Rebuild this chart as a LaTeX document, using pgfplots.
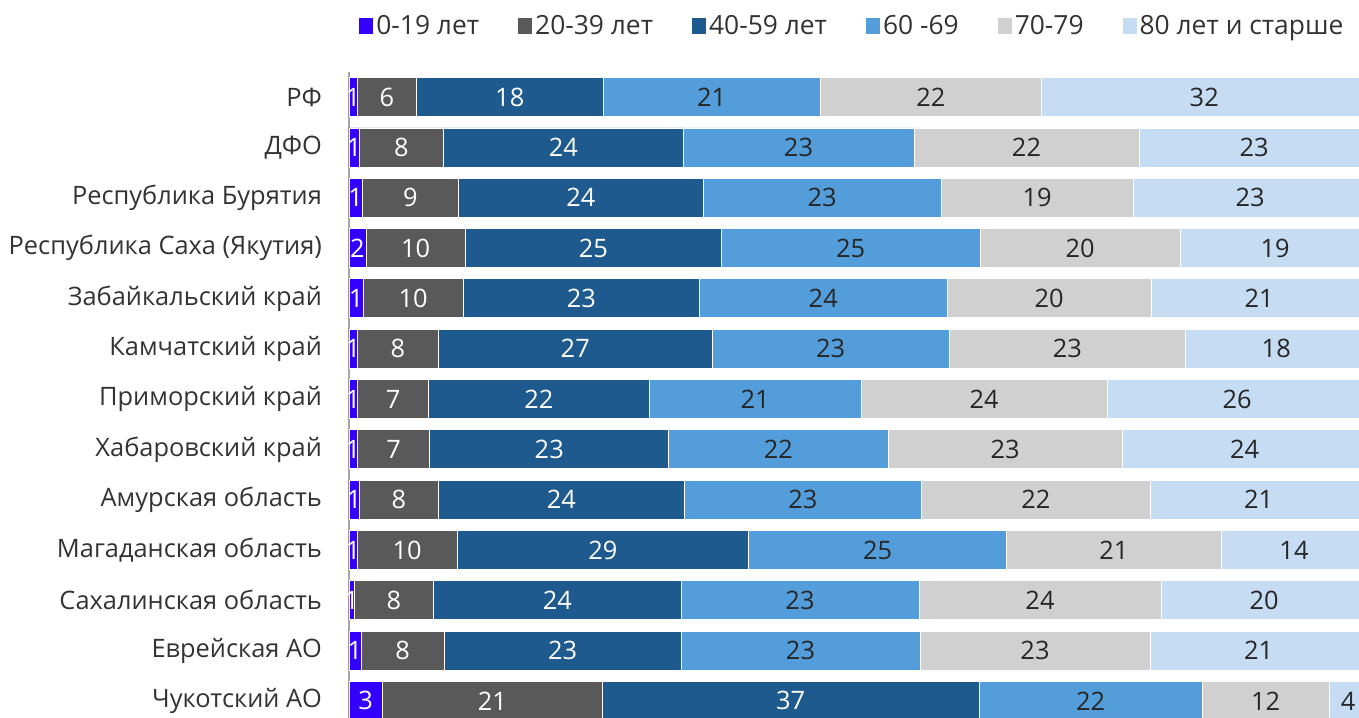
\documentclass[border=0pt]{standalone}
\usepackage{pgfplots}
\pgfplotsset{compat=1.18}
\usepackage{pgfplotstable}
\usepackage{fontspec}
\setmainfont{Open Sans}
\definecolor{cA}{HTML}{3300FF}
\definecolor{cB}{HTML}{595959}
\definecolor{cC}{HTML}{1E5A8E}
\definecolor{cD}{HTML}{539DDB}
\definecolor{cE}{HTML}{D0D0D0}
\definecolor{cF}{HTML}{C5DCF2}
\definecolor{axisgrey}{HTML}{A6A6A6}
\definecolor{labelc}{HTML}{333333}
\pgfplotstableread{
y  a    la b     lb c     lc d     ld e     le f     lf
12 0.82 1  5.80  6  18.34 18 21.32 21 21.74 22 31.98 32
11 1.01 1  8.29  8  23.51 24 22.69 23 22.10 22 22.60 23
10 1.31 1  9.43  9  24.07 24 23.35 23 18.86 19 22.98 23
9  1.67 2  9.75  10 25.15 25 25.41 25 19.68 20 18.60 19
8  1.40 1  9.82  10 23.22 23 24.29 24 20.07 20 21.20 21
7  0.82 1  7.96  8  26.89 27 23.28 23 23.21 23 17.84 18
6  0.82 1  7.01  7  21.64 22 20.83 21 24.19 24 25.51 26
5  0.82 1  7.11  7  23.48 23 21.54 22 23.02 23 24.03 24
4  1.01 1  7.76  8  24.17 24 23.28 23 22.50 22 21.28 21
3  0.82 1  9.79  10 28.65 29 25.34 25 21.05 21 14.35 14
2  0.52 1  7.80  8  24.29 24 23.38 23 23.77 24 20.24 20
1  1.18 1  8.18  8  23.25 23 23.48 23 22.59 23 21.32 21
0  3.27 3  21.61 21 37.00 37 21.94 22 12.45 12 3.73  4
}\data
\pgfplotsset{
  sq/.style={legend image code/.code={\fill[##1,draw=none] (0bp,-3.8bp) rectangle (7bp,3.8bp);}},
}
\begin{document}
\begin{tikzpicture}[font=\fontsize{12.7bp}{15bp}\selectfont]
\begin{axis}[
  scale only axis, width=513.1bp, height=323bp,
  xbar stacked, bar width=19.5bp,
  xmin=0, xmax=100.8, ymin=-0.34, ymax=12.5,
  axis x line=none, axis y line=left,
  y axis line style={-, draw=axisgrey, line width=0.8bp},
  ytick={0,...,12},
  yticklabels={Чукотский АО, Еврейская АО, Сахалинская область, Магаданская область, Амурская область, Хабаровский край, Приморский край, Камчатский край, Забайкальский край, Республика Саха (Якутия), Республика Бурятия, ДФО, РФ},
  major tick length=0, ytick style={draw=none},
  yticklabel style={text=labelc, xshift=-10bp},
  point meta=explicit symbolic,
  nodes near coords,
  every node near coord/.append style={anchor=center},
  legend columns=6,
  legend style={draw=none, fill=none, at={(0.491,1)}, anchor=center, yshift=23bp,
    font=\fontsize{13.2bp}{15bp}\selectfont,
    /tikz/every even column/.append style={column sep=18bp},
    nodes={inner sep=1.5bp, text=labelc}},
  legend cell align=left,
  sq,
]
\addplot[fill=cA, draw=white, line width=0.4bp, sq, nodes near coords style={text=white}] table[x=a, y=y, meta=la] {\data};
\addplot[fill=cB, draw=white, line width=0.4bp, sq, nodes near coords style={text=white}] table[x=b, y=y, meta=lb] {\data};
\addplot[fill=cC, draw=white, line width=0.4bp, sq, nodes near coords style={text=white}] table[x=c, y=y, meta=lc] {\data};
\addplot[fill=cD, draw=white, line width=0.4bp, sq, nodes near coords style={text=black!85}] table[x=d, y=y, meta=ld] {\data};
\addplot[fill=cE, draw=white, line width=0.4bp, sq, nodes near coords style={text=black!85}] table[x=e, y=y, meta=le] {\data};
\addplot[fill=cF, draw=white, line width=0.4bp, sq, nodes near coords style={text=black!85}] table[x=f, y=y, meta=lf] {\data};
\legend{0-19 лет, 20-39 лет, 40-59 лет, 60 -69, 70-79, 80 лет и старше}
\end{axis}
\pgfresetboundingbox
\path[use as bounding box] (current axis.south west) ++(-174.5bp,0) rectangle ++(679.5bp,359bp);
\end{tikzpicture}
\end{document}
